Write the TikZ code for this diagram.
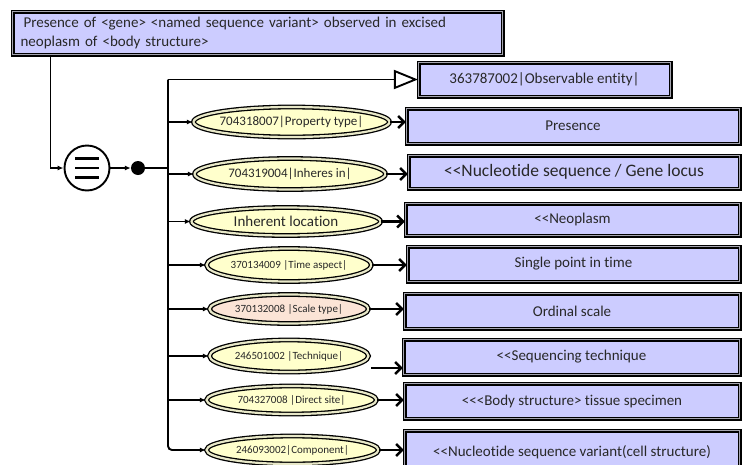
\documentclass[tikz,border=0pt]{standalone}
\usepackage{fontspec}
\setmainfont{Carlito}[Ligatures={TeXOff,NoCommon}]
\usetikzlibrary{arrows.meta,shapes.geometric}
\definecolor{lav}{RGB}{204,204,255}
\definecolor{yel}{RGB}{255,255,204}
\definecolor{pinkf}{RGB}{251,228,214}
\definecolor{ellgap}{RGB}{232,232,200}
\definecolor{boxgap}{RGB}{165,165,175}
\definecolor{txt}{RGB}{40,40,40}
\begin{document}
\begin{tikzpicture}[x=1pt,y=-1pt,
  boxs/.style={draw=black, line width=1.1pt, double=boxgap, double distance=1.8pt, fill=lav, inner sep=0pt, text=txt, font=\fontsize{15}{18}\selectfont},
  ell/.style={ellipse, draw=black, line width=1.3pt, double=ellgap, double distance=2.2pt, fill=yel, inner sep=0pt, text=txt},
  conn/.style={line width=1.9pt, draw=black},
  tip/.style={-{Latex[length=6pt,width=5pt]}},
  barb/.style={line width=2.5pt, -{Straight Barb[length=6pt,width=12pt]}},
  fsmall/.style={font=\fontsize{11}{13}\selectfont},
  fmed/.style={font=\fontsize{13}{15}\selectfont},
  fbig/.style={font=\fontsize{15}{18}\selectfont},
]
\useasboundingbox (0,0) rectangle (742,464);
\fill[white] (0,0) rectangle (742,464);
\clip (0,0) rectangle (742,464);

% top box
\node[boxs, minimum width=490, minimum height=43, text width=474, align=left, font=\fontsize{15}{19}\selectfont] (top) at (257.5,33)
  {\hspace{3pt}Presence of <gene> <named sequence variant> observed in excised\\neoplasm of <body structure>};

% right boxes
\node[boxs, minimum width=252, minimum height=34] (obs) at (544.5,79.5) {363787002|Observable entity|};
\node[boxs, minimum width=333, minimum height=35] (b1) at (573,126) {Presence};
\node[boxs, minimum width=331, minimum height=33, font=\fontsize{17.5}{20}\selectfont] (b2) at (574,172) {<<Nucleotide sequence / Gene locus};
\node[boxs, minimum width=334, minimum height=32] (b3) at (572.5,219.5) {<<Neoplasm};
\node[boxs, minimum width=332, minimum height=35] (b4) at (573.5,264) {Single point in time};
\node[boxs, minimum width=335, minimum height=35] (b5) at (572,311) {Ordinal scale};
\node[boxs, minimum width=336, minimum height=35] (b6) at (571.5,357) {<<Sequencing technique};
\node[boxs, minimum width=335, minimum height=35] (b7) at (572,401) {<<<Body structure> tissue specimen};
\node[boxs, minimum width=335, minimum height=43] (b8) at (572,452) {<<Nucleotide sequence variant(cell structure)};

% ellipses
\node[ell, fmed, minimum width=196, minimum height=30] (e1) at (291.5,122) {\makebox[0pt]{704318007|Property type|}};
\node[ell, fmed, minimum width=191, minimum height=31] (e2) at (290,174) {\makebox[0pt]{704319004|Inheres in|}};
\node[ell, fbig, minimum width=189, minimum height=28] (e3) at (286,221.5) {\makebox[0pt]{Inherent location}};
\node[ell, fsmall, minimum width=165, minimum height=33] (e4) at (289,265) {\makebox[0pt]{370134009 |Time aspect|}};
\node[ell, fsmall, fill=pinkf, minimum width=159, minimum height=29] (e5) at (289,309) {\makebox[0pt]{370132008 |Scale type|}};
\node[ell, fsmall, minimum width=159, minimum height=32] (e6) at (289,356) {\makebox[0pt]{246501002 |Technique|}};
\node[ell, fsmall, minimum width=170, minimum height=28] (e7) at (291.5,400) {\makebox[0pt]{704327008 |Direct site|}};
\node[ell, fsmall, minimum width=172, minimum height=28] (e8) at (292.5,450) {\makebox[0pt]{246093002|Component|}};

% circle and dot
\node[circle, draw=black, line width=1.9pt, fill=white, minimum size=45, inner sep=0pt] (circ) at (87,168) {};
\foreach \dy in {-9.5,0,9.5}
  \draw[line width=2.8pt] ([shift={(-12,\dy)}]circ.center) -- ([shift={(12,\dy)}]circ.center);
\node[circle, fill=black, minimum size=14, inner sep=0pt] (dot) at (138,168) {};

\coordinate (tt) at (168,79.5);

% connectors
\draw[conn, tip] ([xshift=38.5pt]top.south west) |- (circ.west);
\draw[conn, tip] (circ.east) -- (dot.west);
\draw[conn] (dot.east) -- (dot.east -| tt);
\draw[conn, -{Triangle[open, length=24pt, width=19pt, fill=white]}] (tt) -- (obs.west);
\draw[conn, tip, rounded corners=4pt] (tt) |- (e8.west);
\foreach \e in {e1,e2,e3,e4,e5,e6,e7}
  \draw[conn, tip] (tt |- \e.west) -- (\e.west);

% ellipse to box arrows
\draw[barb] (e1.east) -- (e1.east -| b1.west);
\draw[barb] (e2.east) -- (e2.east -| b2.west);
\draw[barb] (e3.east) -- (e3.east -| b3.west);
\draw[barb] (e4.east) -- (e4.east -| b4.west);
\draw[barb] (e5.east) -- (e5.east -| b5.west);
\coordinate (t6) at ([shift={(2,12)}]e6.east);
\draw[barb] (t6) -- (t6 -| b6.west);
\draw[barb] (e7.east) -- (e7.east -| b7.west);
\draw[barb] (e8.east) -- (e8.east -| b8.west);
\end{tikzpicture}
\end{document}
